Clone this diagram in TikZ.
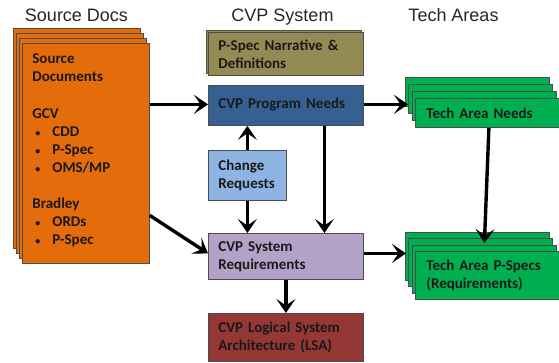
\documentclass[tikz,border=0pt]{standalone}
\usepackage{fontspec}
\setmainfont{Carlito}
\newfontfamily\titlefont{Liberation Sans}
\usetikzlibrary{arrows.meta,shadows}

\definecolor{srcorange}{HTML}{E46C0A}
\definecolor{specolive}{HTML}{948A54}
\definecolor{needblue}{HTML}{376092}
\definecolor{crblue}{HTML}{8EB4E3}
\definecolor{reqlilac}{HTML}{B3A2C7}
\definecolor{lsared}{HTML}{953735}
\definecolor{techgreen}{HTML}{00B050}

% punto elenco piccolo
\newcommand{\puntino}{\hspace*{3pt}{\fontsize{10}{10}\selectfont\textbullet}\hspace{12pt}}

\tikzset{
  box/.style={draw=black!70, line width=0.8pt, anchor=north west,
    inner xsep=10pt, inner ysep=0pt, align=left, text=black!90,
    font=\bfseries\fontsize{15}{18}\selectfont},
  titolo/.style={anchor=base, text=black!85, font=\titlefont\fontsize{18}{20}\selectfont},
  freccia/.style={line width=3.4pt, -{Stealth[length=14pt,width=19pt,inset=6.5pt]}},
}

\begin{document}
\begin{tikzpicture}[x=1pt, y=-1pt]
    \useasboundingbox (0,0) rectangle (559,362);
    % Titoli delle colonne
    \node[titolo] (tsrc) at (76.5,21.5) {Source Docs};
    \node[titolo] (tcvp) at (282.5,21.5) {CVP System};
    \node[titolo] (ttech) at (453.5,21.5) {Tech Areas};
    % Documenti sorgente (pila di fogli)
    \node[box, fill=srcorange, minimum width=127pt, minimum height=220pt,
      text width=107pt,
      copy shadow={shadow xshift=-9pt, shadow yshift=15pt, fill=srcorange, draw=black!70},
      copy shadow={shadow xshift=-6pt, shadow yshift=10pt, fill=srcorange, draw=black!70},
      copy shadow={shadow xshift=-3pt, shadow yshift=5pt, fill=srcorange, draw=black!70}]
      (src) at (22,43) {Source\\Documents\\[19pt]
      GCV\\
      \puntino CDD\\
      \puntino P-Spec\\
      \puntino OMS/MP\\[18pt]
      Bradley\\
      \puntino ORDs\\
      \puntino P-Spec\\[-9pt]\mbox{}};
    % Colonna centrale
    \node[box, fill=specolive, minimum width=155pt, minimum height=43pt,
      text width=135pt,
      copy shadow={shadow xshift=-2.5pt, shadow yshift=2.5pt, fill=specolive, draw=black!70}]
      (spec) at (208,32) {P-Spec Narrative \&\\Definitions};
    \node[box, fill=needblue, minimum width=155pt, minimum height=40pt,
      text width=135pt] (need) at (208,85) {\raisebox{5pt}{CVP Program Needs}};
    \node[box, fill=crblue, minimum width=78pt, minimum height=50pt,
      text width=58pt] (cr) at (208,150) {Change\\Requests};
    \node[box, fill=reqlilac, minimum width=155pt, minimum height=46pt,
      text width=135pt] (req) at (208,233) {CVP System\\Requirements};
    \node[box, fill=lsared, minimum width=155pt, minimum height=48pt,
      text width=135pt] (lsa) at (208,313) {CVP Logical System\\Architecture (LSA)};
    % Aree tecniche (pile di fogli)
    \node[box, fill=techgreen, minimum width=143pt, minimum height=29pt,
      text width=122pt, inner xsep=11pt,
      copy shadow={shadow xshift=-10pt, shadow yshift=21pt, fill=techgreen, draw=black!70},
      copy shadow={shadow xshift=-6.6pt, shadow yshift=14pt, fill=techgreen, draw=black!70},
      copy shadow={shadow xshift=-3.3pt, shadow yshift=7pt, fill=techgreen, draw=black!70}]
      (tneed) at (415,98) {Tech Area Needs};
    \node[box, fill=techgreen, minimum width=143pt, minimum height=48pt,
      text width=122pt, inner xsep=11pt,
      copy shadow={shadow xshift=-10pt, shadow yshift=19pt, fill=techgreen, draw=black!70},
      copy shadow={shadow xshift=-6.6pt, shadow yshift=12.7pt, fill=techgreen, draw=black!70},
      copy shadow={shadow xshift=-3.3pt, shadow yshift=6.3pt, fill=techgreen, draw=black!70}]
      (tspec) at (415,251) {Tech Area P-Specs\\(Requirements)};
    % Punti d'ingresso sulle pile
    \coordinate (tneedin) at ([xshift=-7pt]tneed.west);
    \coordinate (tspecin) at ([xshift=-9pt]tspec.west);
    % Frecce
    \draw[freccia] ([yshift=1pt]need.west -| src.east) -- ([yshift=1pt]need.west);
    \draw[freccia] ([yshift=-62pt]src.east) -- ([yshift=3pt]req.west);
    \draw[freccia] (cr.north) -- (cr.north |- need.south);
    \draw[freccia] (cr.south) -- (cr.south |- req.north);
    \draw[freccia] ([xshift=38.5pt]need.south) -- ([xshift=38.5pt]req.north);
    \draw[freccia] (req.south) -- (lsa.north);
    \draw[freccia] ([yshift=1pt]need.east) -- ([yshift=1pt]tneedin |- need.east);
    \draw[freccia] ([yshift=3pt]req.east) -- ([yshift=3pt]tspecin |- req.east);
    \draw[freccia] ([xshift=1.5pt]tneed.south) -- ([xshift=-3pt,yshift=8pt]tspec.north);
\end{tikzpicture}
\end{document}
